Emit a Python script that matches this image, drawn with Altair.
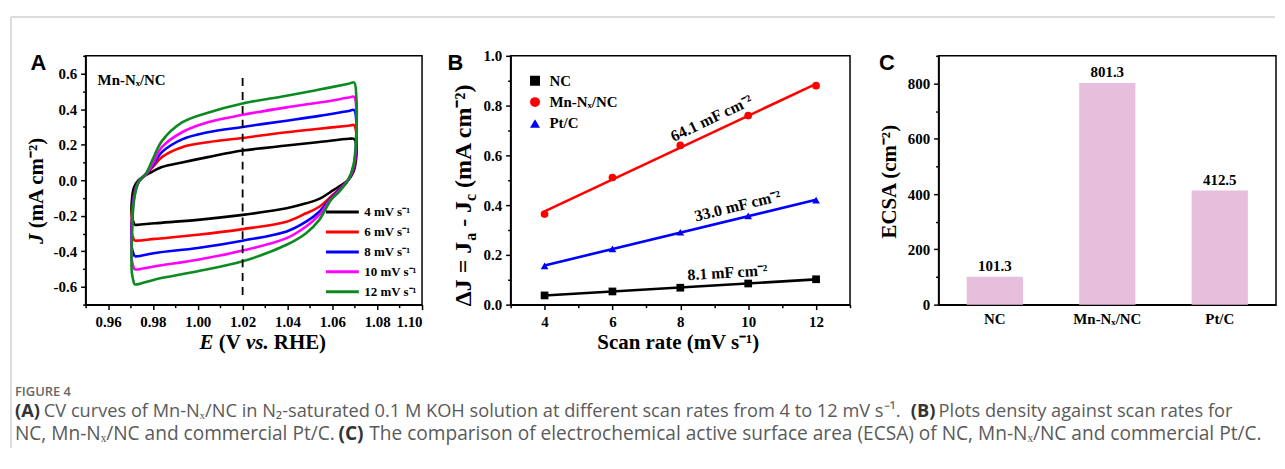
import altair as alt
import pandas as pd

SERIF = "Liberation Serif"
SANS = "Liberation Sans"
CAP = "Open Sans"

# ---------------- Panel A : CV curves ----------------
rate_labels = ["4 mV s⁻¹", "6 mV s⁻¹", "8 mV s⁻¹", "10 mV s⁻¹", "12 mV s⁻¹"]
rate_colors = ["#000000", "#ff0000", "#0000ff", "#ff00ff", "#0b8a22"]
e_loop = [0.9717, 0.9706, 0.9707, 0.9716, 0.9736, 0.9770, 0.9800, 0.9840, 0.9930,
          1.0045, 1.0200, 1.0396, 1.0542, 1.0673, 1.0697, 1.0707, 1.0706, 1.0695,
          1.0670, 1.0630, 1.0593, 1.0542, 1.0483, 1.0396, 1.0200, 1.0000, 0.9810,
          0.9730, 0.9717]
j_4 = [-0.251, -0.20, -0.10, -0.04, 0.00, 0.03, 0.050, 0.074, 0.100, 0.130, 0.167,
       0.195, 0.215, 0.233, 0.232, 0.20, 0.12, 0.05, 0.00, -0.035, -0.065, -0.105,
       -0.13, -0.158, -0.195, -0.223, -0.242, -0.251, -0.251]
j_6 = [-0.34, -0.30, -0.18, -0.08, -0.01, 0.035, 0.075, 0.13, 0.186, 0.214, 0.238,
       0.27, 0.29, 0.307, 0.31, 0.26, 0.15, 0.06, 0.00, -0.05, -0.093, -0.149,
       -0.186, -0.233, -0.275, -0.307, -0.33, -0.34, -0.34]
j_8 = [-0.428, -0.38, -0.22, -0.09, -0.01, 0.035, 0.085, 0.158, 0.23, 0.27, 0.30,
       0.335, 0.362, 0.39, 0.395, 0.33, 0.18, 0.07, 0.00, -0.055, -0.102, -0.177,
       -0.233, -0.288, -0.34, -0.381, -0.409, -0.428, -0.428]
j_10 = [-0.502, -0.45, -0.26, -0.10, -0.01, 0.035, 0.095, 0.186, 0.27, 0.326, 0.368,
        0.41, 0.437, 0.465, 0.47, 0.40, 0.21, 0.08, 0.00, -0.06, -0.108, -0.195,
        -0.26, -0.326, -0.396, -0.447, -0.484, -0.502, -0.502]
j_12 = [-0.586, -0.52, -0.30, -0.11, -0.01, 0.04, 0.12, 0.22, 0.325, 0.38, 0.432,
        0.475, 0.51, 0.543, 0.55, 0.47, 0.24, 0.09, 0.00, -0.065, -0.112, -0.223,
        -0.298, -0.363, -0.456, -0.512, -0.558, -0.586, -0.586]
a_x_major = [0.96, 0.98, 1.00, 1.02, 1.04, 1.06, 1.08, 1.10]
a_x_minor = [0.95, 0.97, 0.99, 1.01, 1.03, 1.05, 1.07, 1.09]
a_y_major = [-0.6, -0.4, -0.2, 0.0, 0.2, 0.4, 0.6]
a_y_minor = [-0.7, -0.5, -0.3, -0.1, 0.1, 0.3, 0.5, 0.7]
dash_e = [1.02]
dash_top = [0.575]
dash_bottom = [-0.66]

# axis-title pieces of panel A (italic / upright)
a_title_italic = ["E", "vs.", "J"]
a_title_upright = ["(V", "RHE)", "(mA cm⁻²)"]

# ---------------- Panel B : delta J vs scan rate ----------------
b_series = ["NC", "Mn-Nₓ/NC", "Pt/C"]
b_colors = ["#000000", "#ff0000", "#0000ff"]
b_shapes = ["square", "circle", "triangle-up"]
scan_rates = [4, 6, 8, 10, 12]
dj_nc = [0.037, 0.053, 0.068, 0.085, 0.102]
dj_mn = [0.364, 0.511, 0.640, 0.760, 0.880]
dj_pt = [0.156, 0.224, 0.291, 0.357, 0.420]
b_x_major = [4, 6, 8, 10, 12]
b_x_minor = [3, 5, 7, 9, 11, 13]
b_y_major = [0.0, 0.2, 0.4, 0.6, 0.8, 1.0]
b_y_minor = [0.1, 0.3, 0.5, 0.7, 0.9]
ann_text = ["64.1 mF cm⁻²", "33.0 mF cm⁻²", "8.1 mF cm⁻²"]
ann_x = [8.92, 9.69, 9.39]
ann_y = [0.748, 0.396, 0.128]
ann_angle = [334.5, 346.3, 356.4]
b_title_pieces = ["ΔJ = J", "a", "- J", "c", "(mA cm⁻²)"]

# ---------------- Panel C : ECSA bars ----------------
c_cats = ["NC", "Mn-Nₓ/NC", "Pt/C"]
c_vals = [101.3, 801.3, 412.5]
c_y_major = [0, 200, 400, 600, 800]
c_y_minor = [100, 300, 500, 700, 900]

# ---------------- Caption ----------------
cap_reg_text = ["CV curves of Mn-Nₓ/NC in N₂-saturated 0.1 M KOH solution at different scan rates from 4 to 12 mV s⁻¹.",
                "Plots density against scan rates for",
                "NC, Mn-Nₓ/NC and commercial Pt/C.",
                "The comparison of electrochemical active surface area (ECSA) of NC, Mn-Nₓ/NC and commercial Pt/C."]
cap_bold_text = ["(A)", "(B)", "(C)"]

# ---- layout (page pixels) ----
W_A, W_B, W_C, H = 338, 341, 339, 250
SPACING = 89
A_X0, A_Y0 = 85, 54   # page position of panel A plot (root origin)
B_X0 = W_A + SPACING  # offset of panel B plot from root origin

cap_reg_x = [43, 942, 14, 370]
cap_reg_y = [412, 412, 434, 434]
cap_reg_fs = [18.3, 18.3, 19.2, 19.2]
cap_bold_x = [14, 914, 339]
cap_bold_y = [412, 412, 434]
cap_bold_fs = [18.3, 18.3, 19.2]

# ---------- build Panel A ----------
cv_rows = []
for lab, js in zip(rate_labels, [j_4, j_6, j_8, j_10, j_12]):
    for i, (e, j) in enumerate(zip(e_loop, js)):
        cv_rows.append({"rate": lab, "idx": i, "E": e, "J": j})
cv_df = pd.DataFrame(cv_rows)

xA = alt.Scale(domain=[0.95, 1.10], nice=False, zero=False)
yA = alt.Scale(domain=[-0.7, 0.7], nice=False, zero=False)
neg1 = "datum.value < 0 ? '-' + format(-datum.value, '.1f') : format(datum.value, '.1f')"

a_lines = alt.Chart(cv_df).mark_line(strokeWidth=2.6, strokeJoin="round",
                                     interpolate="catmull-rom").encode(
    x=alt.X("E:Q", scale=xA, axis=alt.Axis(values=a_x_major, format=".2f", orient="bottom",
            title=None, labelPadding=5)),
    y=alt.Y("J:Q", scale=yA, axis=alt.Axis(values=a_y_major, labelExpr=neg1, orient="left",
            title=None)),
    color=alt.Color("rate:N", scale=alt.Scale(domain=rate_labels, range=rate_colors),
                    legend=alt.Legend(title=None, orient="none", legendX=240, legendY=150,
                                      symbolType="stroke", symbolSize=1089, symbolStrokeWidth=3,
                                      clipHeight=14, rowPadding=6, padding=0, labelOffset=4,
                                      labelFont=SERIF, labelFontWeight="bold", labelFontSize=13,
                                      labelColor="black")),
    order="idx:Q",
)
a_minor = alt.Chart(cv_df).mark_point(opacity=0).encode(
    x=alt.X("E:Q", scale=xA, axis=alt.Axis(values=a_x_minor, labels=False, domain=False,
            tickSize=3, title=None, orient="bottom")),
    y=alt.Y("J:Q", scale=yA, axis=alt.Axis(values=a_y_minor, labels=False, domain=False,
            tickSize=3, title=None, orient="left")),
)
dash_df = pd.DataFrame({"E": dash_e, "top": dash_top, "bot": dash_bottom})
a_dash = alt.Chart(dash_df).mark_rule(color="black", strokeWidth=1.8, strokeDash=[8, 6]).encode(
    x=alt.X("E:Q", scale=xA, axis=None),
    y=alt.Y("top:Q", scale=yA, axis=None),
    y2="bot:Q",
)
a_name = alt.Chart(pd.DataFrame({"t": ["Mn-Nₓ/NC"]})).mark_text(
    font=SERIF, fontWeight="bold", fontSize=15, align="left", baseline="middle", color="black"
).encode(text="t:N", x=alt.value(12), y=alt.value(24))
a_letter = alt.Chart(pd.DataFrame({"t": ["A"]})).mark_text(
    font=SANS, fontWeight="bold", fontSize=22, align="center", baseline="middle", color="black"
).encode(text="t:N", x=alt.value(37.5 - A_X0), y=alt.value(61 - A_Y0))


def pieces(texts, px, py, ang, fs, style, weight="bold", font=SERIF, color="black",
           baseline="alphabetic"):
    df = pd.DataFrame({"t": texts, "px": px, "py": py, "a": ang, "fs": fs})
    return alt.Chart(df).mark_text(font=font, fontWeight=weight, fontStyle=style, color=color,
                                   align="left", baseline=baseline).encode(
        text="t:N",
        x=alt.X("px:Q", scale=None, axis=None),
        y=alt.Y("py:Q", scale=None, axis=None),
        angle=alt.Angle("a:Q", scale=None),
        size=alt.Size("fs:Q", scale=None, legend=None),
    )


# titles of panel A, in coordinates relative to panel A's plot
a_tit_it = pieces(a_title_italic, [114.4, 161.1, -43], [295, 295, 189], [0, 0, 270],
                  [21, 21, 21], "italic")
a_tit_up = pieces(a_title_upright, [133.7, 189.1, -43], [295, 295, 173.3], [0, 0, 270],
                  [21, 21, 21], "normal")

# page-level frame lines and caption (positioned relative to panel A origin)
frame_top = alt.Chart(pd.DataFrame({"k": [0]})).mark_rule(color="#dcdcdc", strokeWidth=2).encode(
    x=alt.value(10 - A_X0), x2=alt.value(1280 - A_X0), y=alt.value(15 - A_Y0))
frame_left = alt.Chart(pd.DataFrame({"k": [0]})).mark_rule(color="#dcdcdc", strokeWidth=2).encode(
    x=alt.value(10 - A_X0), y=alt.value(15 - A_Y0), y2=alt.value(448 - A_Y0))
fig_lbl = alt.Chart(pd.DataFrame({"t": ["FIGURE 4"]})).mark_text(
    font=CAP, fontWeight=600, fontSize=13, align="left", baseline="middle", color="#666666"
).encode(text="t:N", x=alt.value(14 - A_X0), y=alt.value(392 - A_Y0))
cap_reg = pieces(cap_reg_text, [v - A_X0 for v in cap_reg_x], [v - A_Y0 for v in cap_reg_y],
                 [0] * 4, cap_reg_fs, "normal", weight="normal", font=CAP, color="#5a5a5a",
                 baseline="middle")
cap_bold = pieces(cap_bold_text, [v - A_X0 for v in cap_bold_x], [v - A_Y0 for v in cap_bold_y],
                  [0] * 3, cap_bold_fs, "normal", weight="bold", font=CAP, color="#333333",
                  baseline="middle")

panel_a = alt.layer(a_minor, a_lines, a_dash, a_name, a_letter, a_tit_it, a_tit_up,
                    frame_top, frame_left, fig_lbl, cap_reg, cap_bold).resolve_axis(
    x="independent", y="independent").properties(width=W_A, height=H)

# ---------- build Panel B ----------
b_rows = []
for s, vals in zip(b_series, [dj_nc, dj_mn, dj_pt]):
    for r, v in zip(scan_rates, vals):
        b_rows.append({"series": s, "rate": r, "dj": v})
b_df = pd.DataFrame(b_rows)
xB = alt.Scale(domain=[3, 13], nice=False, zero=False)
yB = alt.Scale(domain=[0, 1], nice=False, zero=False)
b_leg = alt.Legend(title=None, orient="none", legendX=B_X0 + 17, legendY=17, clipHeight=16,
                   rowPadding=5.5, padding=0, labelOffset=7, labelFont=SERIF,
                   labelFontWeight="bold", labelFontSize=15, labelColor="black")

b_fits = []
for k, (s, col) in enumerate(zip(b_series, b_colors)):
    enc_x = alt.X("rate:Q", scale=xB, axis=None)
    enc_y = alt.Y("dj:Q", scale=yB, axis=None)
    if k == 0:
        enc_x = alt.X("rate:Q", scale=xB, axis=alt.Axis(values=b_x_major, format="d",
                      orient="bottom", title="Scan rate (mV s⁻¹)", titleX=168, titleY=38,
                      titleBaseline="middle", titleAlign="center", labelPadding=5))
        enc_y = alt.Y("dj:Q", scale=yB, axis=alt.Axis(values=b_y_major, format=".1f",
                      orient="left", title=None))
    b_fits.append(
        alt.Chart(b_df).transform_filter(alt.datum.series == s)
        .transform_regression("rate", "dj").mark_line(strokeWidth=2.6, color=col)
        .encode(x=enc_x, y=enc_y)
    )
b_pts = alt.Chart(b_df).mark_point(filled=True, size=60, opacity=1, strokeWidth=0).encode(
    x=alt.X("rate:Q", scale=xB, axis=None),
    y=alt.Y("dj:Q", scale=yB, axis=None),
    fill=alt.Fill("series:N", scale=alt.Scale(domain=b_series, range=b_colors), legend=b_leg),
    shape=alt.Shape("series:N", scale=alt.Scale(domain=b_series, range=b_shapes), legend=b_leg),
)
b_minor = alt.Chart(b_df).mark_point(opacity=0).encode(
    x=alt.X("rate:Q", scale=xB, axis=alt.Axis(values=b_x_minor, labels=False, domain=False,
            tickSize=3, title=None, orient="bottom")),
    y=alt.Y("dj:Q", scale=yB, axis=alt.Axis(values=b_y_minor, labels=False, domain=False,
            tickSize=3, title=None, orient="left")),
)
ann_df = pd.DataFrame({"t": ann_text, "x": ann_x, "y": ann_y, "a": ann_angle})
b_ann = alt.Chart(ann_df).mark_text(font=SERIF, fontWeight="bold", fontSize=16, color="black",
                                     align="center", baseline="middle").encode(
    x=alt.X("x:Q", scale=xB, axis=None), y=alt.Y("y:Q", scale=yB, axis=None),
    text="t:N", angle=alt.Angle("a:Q", scale=None))
b_letter = alt.Chart(pd.DataFrame({"t": ["B"]})).mark_text(
    font=SANS, fontWeight="bold", fontSize=22, align="center", baseline="middle", color="black"
).encode(text="t:N", x=alt.value(-55.5), y=alt.value(7))
b_title = pieces(b_title_pieces, [-40, -35, -40, -35, -40], [251.5, 185.8, 171.8, 145.8, 132.7],
                 [270] * 5, [24, 16, 24, 16, 24], "normal")

panel_b = alt.layer(b_minor, *b_fits, b_pts, b_ann, b_letter, b_title).resolve_axis(
    x="independent", y="independent").properties(width=W_B, height=H)

# ---------- build Panel C ----------
c_df = pd.DataFrame({"cat": c_cats, "val": c_vals})
xC = alt.Scale(domain=c_cats, paddingInner=0.5, paddingOuter=0.25)
yC = alt.Scale(domain=[0, 900], nice=False, zero=True)
c_bars = alt.Chart(c_df).mark_bar(color="#e6bfdd").encode(
    x=alt.X("cat:N", scale=xC, sort=c_cats, axis=alt.Axis(title=None, labelAngle=0, ticks=False,
            labelPadding=7, orient="bottom")),
    y=alt.Y("val:Q", scale=yC, axis=alt.Axis(values=c_y_major, format="d", orient="left",
            title="ECSA (cm⁻²)", titleX=-49, titleY=126, titleAngle=270, titleBaseline="middle",
            titleAlign="center")),
)
c_minor = alt.Chart(c_df).mark_point(opacity=0).encode(
    y=alt.Y("val:Q", scale=yC, axis=alt.Axis(values=c_y_minor, labels=False, domain=False,
            tickSize=3, title=None, orient="left")),
)
c_text = alt.Chart(c_df).mark_text(font=SERIF, fontWeight="bold", fontSize=15, color="black",
                                    baseline="bottom", dy=-3).encode(
    x=alt.X("cat:N", scale=xC, sort=c_cats, axis=None),
    y=alt.Y("val:Q", scale=yC, axis=None),
    text=alt.Text("val:Q", format=".1f"))
c_letter = alt.Chart(pd.DataFrame({"t": ["C"]})).mark_text(
    font=SANS, fontWeight="bold", fontSize=22, align="center", baseline="middle", color="black"
).encode(text="t:N", x=alt.value(-52), y=alt.value(7))

panel_c = alt.layer(c_minor, c_bars, c_text, c_letter).resolve_axis(
    x="independent", y="independent").properties(width=W_C, height=H)

chart = alt.hconcat(panel_a, panel_b, panel_c, spacing=SPACING, bounds="flush").properties(
    padding={"left": 1, "top": 6, "right": 0, "bottom": 0}
).configure_view(stroke="black", strokeWidth=1.5).configure_axis(
    domainColor="black", domainWidth=1.5, tickColor="black", tickWidth=1.5, tickSize=5,
    labelFont=SERIF, labelFontWeight="bold", labelFontSize=15, labelColor="black",
    titleFont=SERIF, titleFontWeight="bold", titleFontSize=21, titleColor="black",
    grid=False, labelPadding=4)

chart.save("out.html", embed_options={"renderer": "svg", "actions": False})
